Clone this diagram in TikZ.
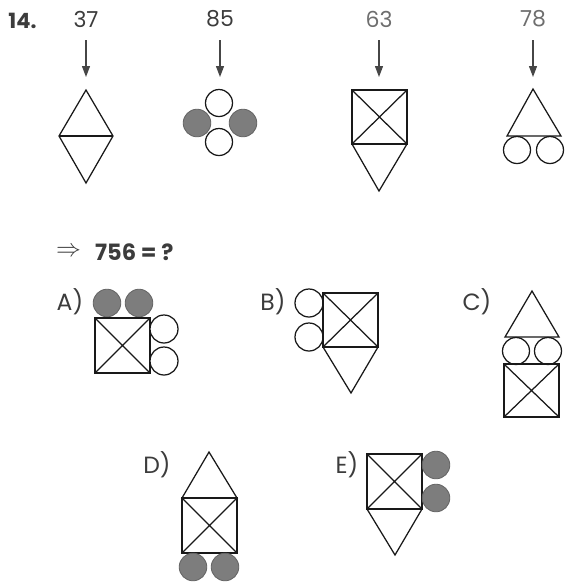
\documentclass[tikz,border=0pt]{standalone}
\usepackage{fontspec}
\setmainfont{Poppins}
\usetikzlibrary{arrows.meta}
\definecolor{ink}{RGB}{25,25,25}
\definecolor{numdark}{RGB}{60,60,60}
\definecolor{numlight}{RGB}{110,110,110}
\definecolor{discgray}{RGB}{125,125,125}
\definecolor{discedge}{RGB}{100,100,100}
\definecolor{arrowgray}{RGB}{70,70,70}
\tikzset{
  shp/.style={draw=ink, line width=1.25pt, line join=miter},
  disc/.style={draw=discedge, fill=discgray, line width=0.8pt},
  ring/.style={draw=ink, fill=white, line width=1.25pt},
  numlabel/.style={font=\fontsize{22}{24}\selectfont, inner sep=0pt},
  optlabel/.style={font=\fontsize{23.5}{26}\selectfont, text=numdark, inner sep=0pt},
  downarrow/.style={draw=arrowgray, line width=1.3pt, -{Triangle[length=11pt,width=8pt]}}
}
\newcommand{\crossbox}[4]{% x1 y1 x2 y2
  \draw[shp] (#1,#2) rectangle (#3,#4);
  \draw[shp] (#1,#2) -- (#3,#4) (#1,#4) -- (#3,#2);}
\begin{document}
\begin{tikzpicture}[x=1pt,y=-1pt]
\useasboundingbox[fill=white] (0,0) rectangle (566,582);
% title
\node[font=\fontsize{21}{23}\selectfont\bfseries, text=numdark, inner sep=0pt] (num) at (22.5,21) {14.};
% top numbers
\node[numlabel, text=numdark] (n37) at (86,19) {37};
\node[numlabel, text=numdark] (n85) at (220,19) {85};
\node[numlabel, text=numlight] (n63) at (379,19) {63};
\node[numlabel, text=numlight] (n78) at (533,19) {78};
\coordinate (a37s) at (86,40);  \coordinate (a37e) at (86,77);
\coordinate (a85s) at (220,40); \coordinate (a85e) at (220,77);
\coordinate (a63s) at (379,40); \coordinate (a63e) at (379,77);
\coordinate (a78s) at (533,40); \coordinate (a78e) at (533,77);
\draw[downarrow] (a37s) -- (a37e);
\draw[downarrow] (a85s) -- (a85e);
\draw[downarrow] (a63s) -- (a63e);
\draw[downarrow] (a78s) -- (a78e);
% 37: diamond
\draw[shp] (86,90) -- (113,136) -- (86,183) -- (59,136) -- cycle;
\draw[shp] (59,136) -- (113,136);
% 85: four circles
\draw[ring] (219,103) circle (13.5);
\draw[ring] (219,142) circle (13.5);
\draw[disc] (197,123) circle (13.8);
\draw[disc] (243,123) circle (13.8);
% 63: box + triangle
\crossbox{352}{90}{407}{144}
\draw[shp] (352,144) -- (379,191) -- (407,144);
% 78: triangle + circles
\draw[shp] (533,89) -- (561,136) -- (507,136) -- cycle;
\draw[ring] (517,150) circle (13.5);
\draw[ring] (550,150) circle (13.5);
% question
\node[font=\fontsize{26}{28}\selectfont, text=numdark, inner sep=0pt, anchor=west] (impl) at (56,252) {$\Rightarrow$};
\node[font=\fontsize{22.5}{25}\selectfont\bfseries, text=numdark, inner sep=0pt, anchor=west] (q) at (95,252) {756 = ?};
% A
\node[optlabel] (la) at (70,302) {A)};
\draw[disc] (107,303) circle (13.8);
\draw[disc] (139,303) circle (13.8);
\crossbox{95}{318}{150}{373}
\draw[ring] (164,329) circle (14);
\draw[ring] (164,361) circle (14);
% B
\node[optlabel] (lb) at (273,302) {B)};
\draw[ring] (309,303) circle (14);
\draw[ring] (309,337) circle (14);
\crossbox{323}{293}{378}{347}
\draw[shp] (323,347) -- (351,393) -- (378,347);
% C
\node[optlabel] (lc) at (477,302) {C)};
\draw[shp] (532,291) -- (559,337) -- (505,337) -- cycle;
\draw[ring] (516,351) circle (13.5);
\draw[ring] (548,351) circle (13.5);
\crossbox{504}{364}{559}{417}
% D
\node[optlabel] (ld) at (157,465) {D)};
\draw[shp] (209,452) -- (237,498) -- (182,498) -- cycle;
\crossbox{182}{498}{237}{553}
\draw[disc] (193,567) circle (13.8);
\draw[disc] (225,567) circle (13.8);
% E
\node[optlabel] (le) at (347,465) {E)};
\crossbox{367}{454}{422}{509}
\draw[shp] (367,509) -- (395,555) -- (422,509);
\draw[disc] (436,465) circle (13.8);
\draw[disc] (436,498) circle (13.8);
\end{tikzpicture}
\end{document}
